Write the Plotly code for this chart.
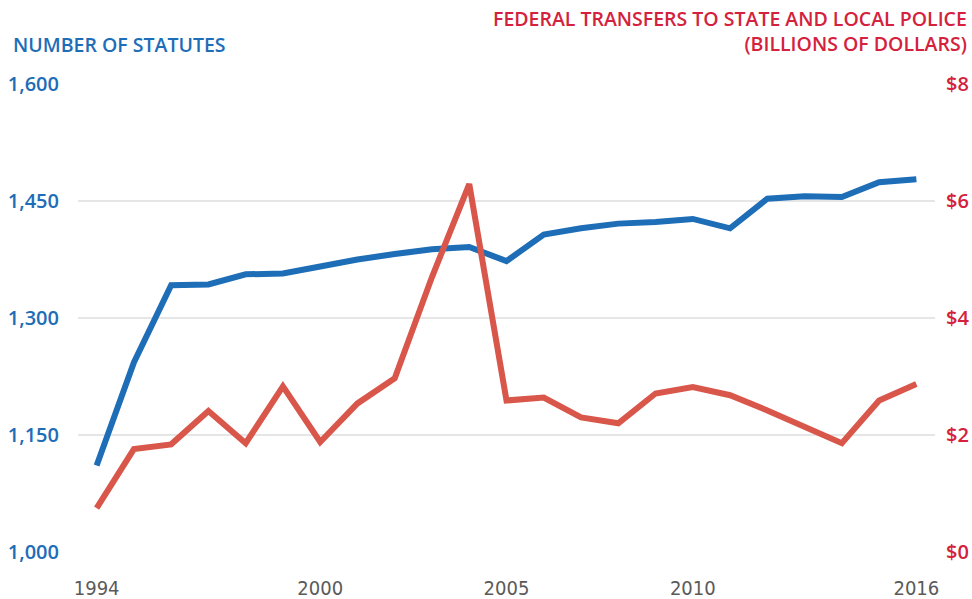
import plotly.graph_objects as go

years = list(range(1994, 2017))
statutes = [1111, 1243, 1342, 1343, 1356, 1357, 1366, 1375, 1382, 1388, 1391, 1373,
            1407, 1415, 1421, 1423, 1427, 1415, 1453, 1456, 1455, 1474, 1478]
transfers = [0.75, 1.76, 1.84, 2.41, 1.86, 2.83, 1.88, 2.54, 2.97, 4.70, 6.29, 2.59,
             2.64, 2.30, 2.20, 2.71, 2.82, 2.68, 2.42, 2.13, 1.86, 2.59, 2.87]

left_ticks = [1000, 1150, 1300, 1450, 1600]
left_labels = ["1,000", "1,150", "1,300", "1,450", "1,600"]
right_ticks = [0, 2, 4, 6, 8]
right_labels = ["$0", "$2", "$4", "$6", "$8"]
x_ticks = [1994, 2000, 2005, 2010, 2016]

BLUE = "#1d6db7"
RED_LINE = "#d9564a"
RED_TEXT = "#d4213d"
FONT = "Open Sans, Noto Sans, sans-serif"
NARROW = "Liberation Sans Narrow, DejaVu Sans Condensed, sans-serif"

W, H = 972, 599
ML, MR, MT, MB = 78, 37, 84, 47

fig = go.Figure()
fig.add_trace(go.Scatter(x=years, y=statutes, mode="lines", yaxis="y",
                         line=dict(color=BLUE, width=6), hoverinfo="skip"))
fig.add_trace(go.Scatter(x=years, y=transfers, mode="lines", yaxis="y2",
                         line=dict(color=RED_LINE, width=6), hoverinfo="skip"))

fig.update_layout(
    template="none",
    width=W, height=H, autosize=False,
    margin=dict(l=ML, r=MR, t=MT, b=MB, pad=0),
    paper_bgcolor="white", plot_bgcolor="white",
    showlegend=False,
    xaxis=dict(range=[1993.5, 2016.5], tickvals=x_ticks, ticktext=[str(v) for v in x_ticks],
               showgrid=False, zeroline=False, showline=False, ticks="", automargin=False,
               tickfont=dict(family=NARROW, size=20, color="#5a5a5a"),
               ticklabelstandoff=22),
    yaxis=dict(range=[1000, 1600], tickvals=left_ticks, ticktext=left_labels,
               showgrid=True, gridcolor="#e6e6e6", gridwidth=2, zeroline=False,
               showline=False, ticks="", automargin=False,
               tickfont=dict(family=FONT, size=20, color=BLUE, weight=600),
               ticklabelstandoff=18),
    yaxis2=dict(range=[0, 8], tickvals=right_ticks, ticktext=right_labels,
                overlaying="y", side="right", showgrid=False, zeroline=False,
                showline=False, ticks="", automargin=False,
                tickfont=dict(family=FONT, size=20, color=RED_TEXT, weight=600),
                ticklabelstandoff=10),
)

pw = W - ML - MR
ph = H - MT - MB
def px(x):
    return (x - ML) / pw
def py(y):
    return (H - MB - y) / ph

fig.add_annotation(x=px(11), y=py(44), xref="paper", yref="paper",
                   text="NUMBER OF STATUTES", showarrow=False,
                   xanchor="left", yanchor="middle",
                   font=dict(family=FONT, size=19.5, color=BLUE, weight=600))
fig.add_annotation(x=px(969), y=py(31), xref="paper", yref="paper",
                   text="FEDERAL TRANSFERS TO STATE AND LOCAL POLICE<br>(BILLIONS OF DOLLARS)",
                   showarrow=False, xanchor="right", yanchor="middle", align="right",
                   font=dict(family=FONT, size=19.5, color=RED_TEXT, weight=600))

fig.write_html("out.html", config={"displayModeBar": False},
               post_script="document.body.style.margin='0';")
